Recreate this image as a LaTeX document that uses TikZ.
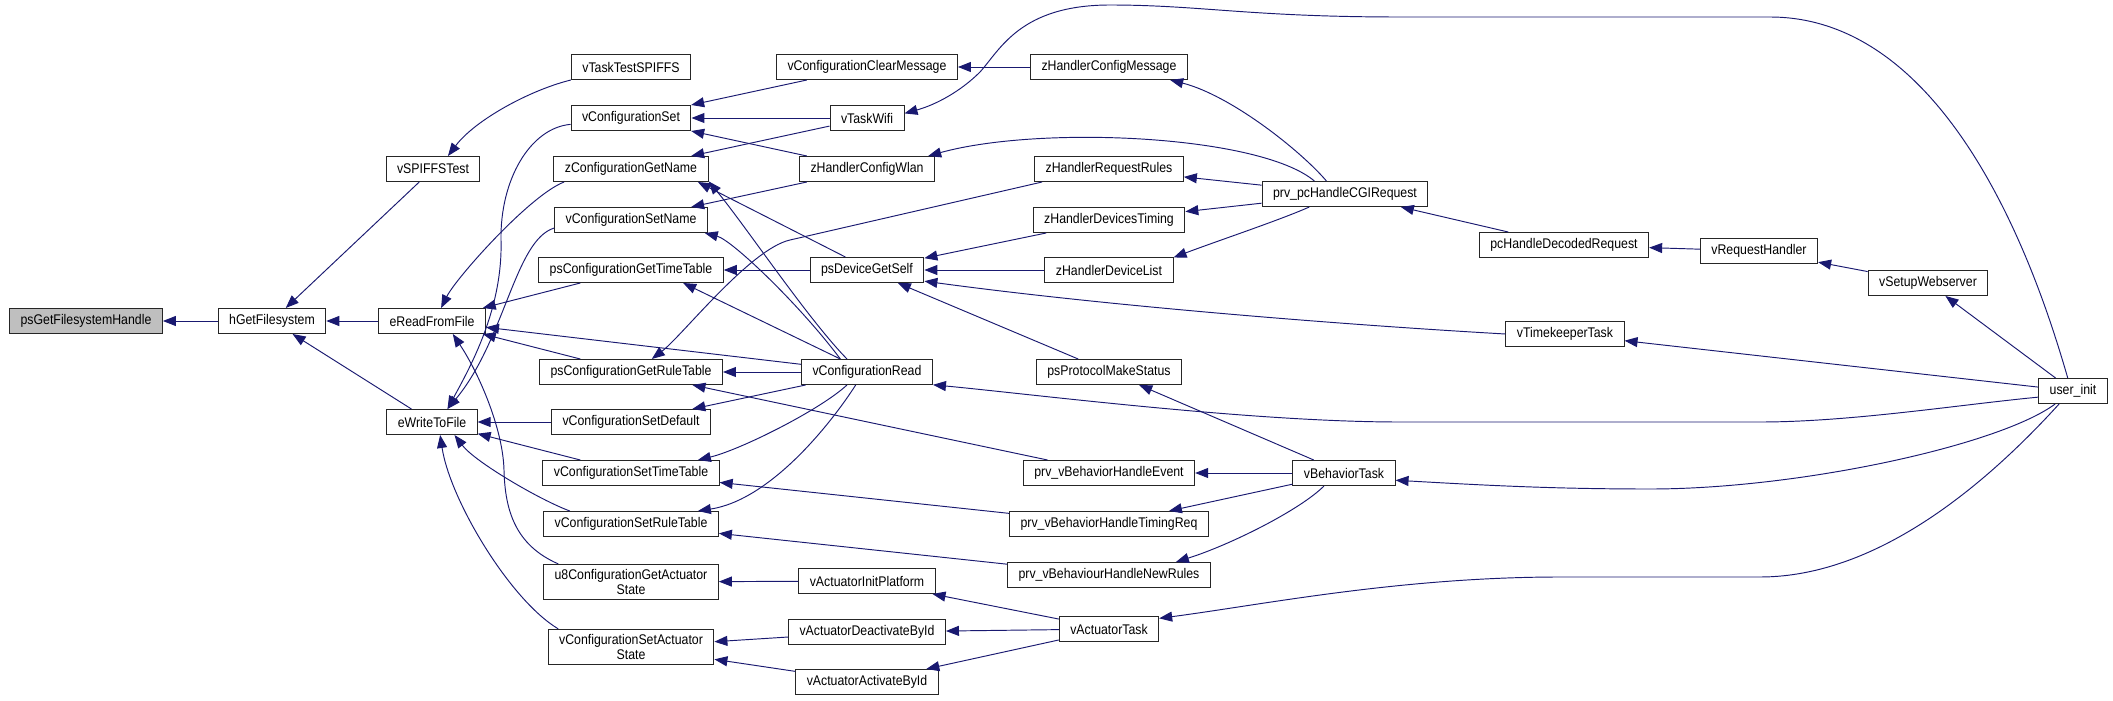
\documentclass[tikz,border=0pt]{standalone}
\usepackage{fontspec}
\setmainfont{Liberation Sans}[FakeStretch=0.88]
\usepackage{tikz}
\usetikzlibrary{arrows.meta}
\definecolor{navy}{RGB}{25,25,112}
\definecolor{hlgray}{RGB}{191,191,191}

\begin{document}
\begin{tikzpicture}[x=1pt, y=-1pt,
    fn/.style={draw=black!85, line width=1pt, fill=white, font=\fontsize{14}{15}\selectfont,
               minimum height=25pt, inner xsep=11pt, inner ysep=5pt, align=center},
    cur/.style={fn, fill=hlgray},
    arr/.style={-{Triangle[length=13pt,width=10pt]}, navy, line width=0.95pt}]
  \useasboundingbox (0,0) rectangle (2113,701);
  % callee side
  \node[cur] (gfh) at (86,321) {psGetFilesystemHandle};
  \node[fn] (hgf) at (272,321) {hGetFilesystem};
  \node[fn] (spt) at (433,169) {vSPIFFSTest};
  \node[fn] (rff) at (432,321) {eReadFromFile};
  \node[fn] (wtf) at (432,422) {eWriteToFile};
  \node[fn] (tts) at (631,67) {vTaskTestSPIFFS};
  \node[fn] (cset) at (631,118) {vConfigurationSet};
  \node[fn] (cgname) at (631,169) {zConfigurationGetName};
  \node[fn] (csetname) at (631,220) {vConfigurationSetName};
  \node[fn] (cgtt) at (631,270) {psConfigurationGetTimeTable};
  \node[fn] (cgrt) at (631,372) {psConfigurationGetRuleTable};
  \node[fn] (csetdef) at (631,422) {vConfigurationSetDefault};
  \node[fn] (csettt) at (631,473) {vConfigurationSetTimeTable};
  \node[fn] (csetrt) at (631,524) {vConfigurationSetRuleTable};
  \node[fn] (cgas) at (631,582) {u8ConfigurationGetActuator\\State};
  \node[fn] (csas) at (631,647) {vConfigurationSetActuator\\State};
  \node[fn] (clrmsg) at (867,67) {vConfigurationClearMessage};
  \node[fn] (wifi) at (867,118) {vTaskWifi};
  \node[fn] (hcw) at (867,169) {zHandlerConfigWlan};
  \node[fn] (devself) at (867,270) {psDeviceGetSelf};
  \node[fn] (cread) at (867,372) {vConfigurationRead};
  \node[fn] (aip) at (867,581) {vActuatorInitPlatform};
  \node[fn] (adb) at (867,632) {vActuatorDeactivateById};
  \node[fn] (aab) at (867,682) {vActuatorActivateById};
  \node[fn] (hcm) at (1109,67) {zHandlerConfigMessage};
  \node[fn] (hrr) at (1109,169) {zHandlerRequestRules};
  \node[fn] (hdt) at (1109,220) {zHandlerDevicesTiming};
  \node[fn] (hdl) at (1109,270) {zHandlerDeviceList};
  \node[fn] (pms) at (1109,372) {psProtocolMakeStatus};
  \node[fn] (bhe) at (1109,473) {prv\_vBehaviorHandleEvent};
  \node[fn] (bhtr) at (1109,524) {prv\_vBehaviorHandleTimingReq};
  \node[fn] (bhnr) at (1109,575) {prv\_vBehaviourHandleNewRules};
  \node[fn] (atask) at (1109,629) {vActuatorTask};
  \node[fn] (cgi) at (1345,194) {prv\_pcHandleCGIRequest};
  \node[fn] (btask) at (1344,473) {vBehaviorTask};
  \node[fn] (hdr) at (1564,245) {pcHandleDecodedRequest};
  \node[fn] (tk) at (1565,334) {vTimekeeperTask};
  \node[fn] (rh) at (1759,251) {vRequestHandler};
  \node[fn] (sws) at (1928,283) {vSetupWebserver};
  \node[fn] (ui) at (2073,391) {user\_init};

  % calls, caller -> callee
  \draw[arr] (hgf) -- (gfh);
  \draw[arr] (rff) -- (hgf);
  \draw[arr] (wtf) -- (hgf);
  \draw[arr] (spt) -- (hgf);
  \draw[arr] (tts.south west) .. controls (530,90) and (475,120) .. (spt.41);
  \draw[arr] (cset.186) .. controls (530,128) and (500,180) .. (501,240)
                        .. controls (503,310) and (469,369) .. (wtf.40);
  \draw[arr] (csetname.186) .. controls (515,240) and (505,340) .. (wtf.40);
  \draw[arr] (csetdef) -- (wtf);
  \draw[arr] (csettt) -- (wtf);
  \draw[arr] (csetrt.168) .. controls (540,500) and (475,462) .. (wtf.-30);
  \draw[arr] (csas.166) .. controls (510,600) and (450,500) .. (wtf.-58);
  \draw[arr] (cgas.166) .. controls (515,545) and (505,510) .. (504,470)
                        .. controls (503,430) and (480,375) .. (rff.-32);
  \draw[arr] (cgname.191) .. controls (530,195) and (456,278) .. (rff.55);
  \draw[arr] (cgtt) -- (rff);
  \draw[arr] (cread) -- (rff);
  \draw[arr] (cgrt) -- (rff);
  \draw[arr] (clrmsg) -- (cset);
  \draw[arr] (wifi) -- (cset);
  \draw[arr] (hcw) -- (cset);
  \draw[arr] (wifi) -- (cgname);
  \draw[arr] (hcw) -- (csetname);
  \draw[arr] (devself.149) -- (cgname.-11);
  \draw[arr] (cread.147) .. controls (807,318) and (745,225) .. (cgname.-9);
  \draw[arr] (cread.154) .. controls (800,305) and (732,240) .. (csetname.-10);
  \draw[arr] (devself) -- (cgtt);
  \draw[arr] (cread.154) -- (cgtt.-14);
  \draw[arr] (hrr.-169) -- (790,240) .. controls (750,249) and (682,336) .. (cgrt.32);
  \draw[arr] (cread) -- (cgrt);
  \draw[arr] (bhe) -- (cgrt);
  \draw[arr] (cread) -- (csetdef);
  \draw[arr] (cread.-147) .. controls (820,410) and (740,450) .. (csettt.11);
  \draw[arr] (bhtr) -- (csettt);
  \draw[arr] (cread.-131) .. controls (830,425) and (770,500) .. (csetrt.11);
  \draw[arr] (bhnr) -- (csetrt);
  \draw[arr] (aip) -- (cgas);
  \draw[arr] (adb) -- (csas);
  \draw[arr] (aab) -- (csas);
  \draw[arr] (hcm) -- (clrmsg);
  \draw[arr] (ui.112) .. controls (2045,300) and (1960,17) .. (1770,17) -- (1400,17)
                      .. controls (1250,17) and (1200,5) .. (1110,5)
                      .. controls (1020,5) and (1000,50) .. (980,72)
                      .. controls (960,92) and (935,105) .. (wifi.7);
  \draw[arr] (cgi.145) .. controls (1300,150) and (1230,95) .. (hcm.-12);
  \draw[arr] (cgi.157) .. controls (1260,135) and (1040,125) .. (hcw.12);
  \draw[arr] (cgi) -- (hrr);
  \draw[arr] (cgi) -- (hdt);
  \draw[arr] (cgi.-160) .. controls (1280,220) and (1220,240) .. (hdl.11);
  \draw[arr] (hdt) -- (devself);
  \draw[arr] (hdl) -- (devself);
  \draw[arr] (tk.west) .. controls (1330,324) and (1100,305) .. (devself.-11);
  \draw[arr] (pms) -- (devself);
  \draw[arr] (ui.-170) .. controls (1957,405) and (1850,422) .. (1760,422) -- (1400,422)
                       .. controls (1250,422) and (1031,394) .. (cread.-11);
  \draw[arr] (hdr) -- (cgi);
  \draw[arr] (rh) -- (hdr);
  \draw[arr] (sws) -- (rh);
  \draw[arr] (ui) -- (sws);
  \draw[arr] (ui) -- (tk);
  \draw[arr] (btask) -- (pms);
  \draw[arr] (btask) -- (bhe);
  \draw[arr] (btask) -- (bhtr);
  \draw[arr] (btask.-147) .. controls (1300,510) and (1230,545) .. (bhnr.11);
  \draw[arr] (ui.-144) .. controls (2000,445) and (1800,489) .. (1650,489)
                       .. controls (1550,489) and (1480,485) .. (btask.-8);
  \draw[arr] (ui.-137) .. controls (1990,480) and (1880,577) .. (1760,577) -- (1560,577)
                       .. controls (1400,577) and (1261,605) .. (atask.12);
  \draw[arr] (atask) -- (aip);
  \draw[arr] (atask) -- (adb);
  \draw[arr] (atask) -- (aab);
\end{tikzpicture}
\end{document}
